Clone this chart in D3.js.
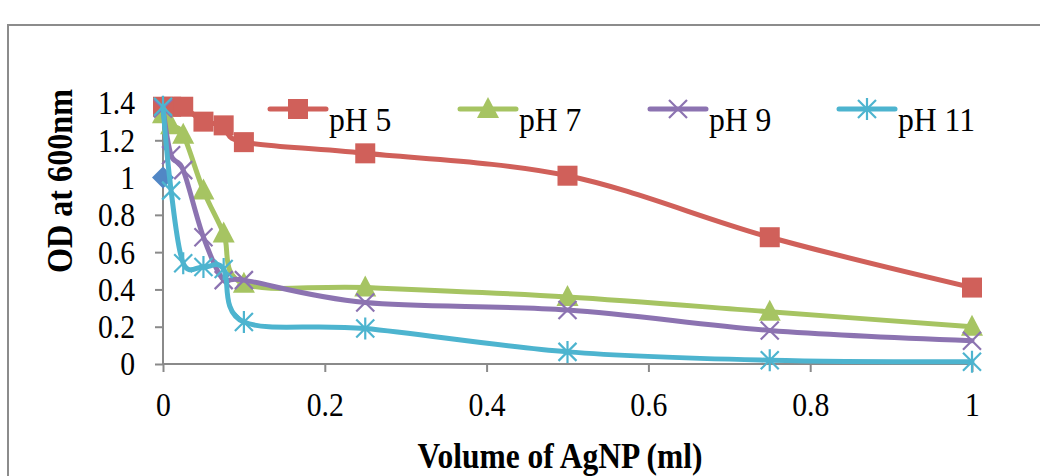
<!DOCTYPE html>
<html>
<head>
<meta charset="utf-8">
<script src="https://cdn.jsdelivr.net/npm/d3@7"></script>
<style>
  html, body { margin: 0; padding: 0; background: #fff; }
  svg { display: block; }
  text { font-family: "Liberation Serif", "Times New Roman", serif; fill: #000; }
</style>
</head>
<body>
<svg id="chart" width="1040" height="476"></svg>
<script>
// ---- data ----
const volumes = [0, 0.01, 0.025, 0.05, 0.075, 0.1, 0.25, 0.5, 0.75, 1];
const pH5  = [1.38, 1.38, 1.38, 1.30, 1.28, 1.19, 1.13, 1.01, 0.68, 0.41];
const pH7  = [1.34, 1.28, 1.23, 0.93, 0.70, 0.43, 0.41, 0.36, 0.28, 0.20];
const pH9  = [1.37, 1.12, 1.04, 0.68, 0.45, 0.45, 0.33, 0.29, 0.18, 0.125];
const pH11 = [1.38, 0.93, 0.54, 0.52, 0.51, 0.225, 0.19, 0.065, 0.02, 0.012];
const series1Volumes = [0];
const series1 = [1.0];
const seriesNames = ["pH 5", "pH 7", "pH 9", "pH 11"];
const xTicks = [0, 0.2, 0.4, 0.6, 0.8, 1];
const yTicks = [0, 0.2, 0.4, 0.6, 0.8, 1, 1.2, 1.4];
const xTitle = "Volume of AgNP (ml)";
const yTitle = "OD at 600nm";

// ---- layout ----
const svg = d3.select("#chart");
const x = d3.scaleLinear().domain([0, 1]).range([163, 972]);
const y = d3.scaleLinear().domain([0, 1.4]).range([364, 103]);
const axisColor = "#8a8a8a";
const sx = 0.9; // horizontal squeeze of the original's text

// outer chart border
svg.append("rect").attr("x", 8).attr("y", 25).attr("width", 1100).attr("height", 600)
  .attr("fill", "none").attr("stroke", "#8c8c8c").attr("stroke-width", 2);

// axes
const xAxis = svg.append("g").attr("transform", `translate(0,${y(0)})`)
  .call(d3.axisBottom(x).tickValues(xTicks).tickSize(8).tickFormat(d3.format("~g")));
const yAxis = svg.append("g").attr("transform", `translate(${x(0)},0)`)
  .call(d3.axisLeft(y).tickValues(yTicks).tickSize(8).tickFormat(d3.format("~g")));
[xAxis, yAxis].forEach(g => {
  g.selectAll("path").attr("stroke", axisColor).attr("stroke-width", 2);
  g.selectAll("line").attr("stroke", axisColor).attr("stroke-width", 2);
  g.selectAll("text").style("font-family", '"Liberation Serif", serif').style("font-size", "33px").attr("fill", "#000");
});
xAxis.selectAll(".domain").attr("d", `M${x(0)},0H${x(1)}`);
yAxis.selectAll(".domain").attr("d", `M0,${y(0)}V${y(1.4)}`);
xAxis.selectAll("text").attr("y", 52).attr("dy", 0).attr("transform", `scale(${sx},1)`);
yAxis.selectAll("text").attr("x", -28 / sx).attr("dy", "0.33em").attr("transform", `scale(${sx},1)`);

// axis titles
svg.append("text").attr("transform", `translate(560,468) scale(0.9,1)`).attr("text-anchor", "middle")
  .style("font-size", "35px").style("font-weight", "bold").text(xTitle);
svg.append("text").attr("transform", "translate(72,181) rotate(-90) scale(0.92,1)").attr("text-anchor", "middle")
  .style("font-size", "35px").style("font-weight", "bold").text(yTitle);

// ---- series ----
const colors = ["#D0605A", "#A6C462", "#8C73B1", "#4DB4CF"];
const blue = "#5187C5";
const values = [pH5, pH7, pH9, pH11];
const curve = d3.curveCatmullRom.alpha(0);
const line = d3.line().x(d => x(d[0])).y(d => y(d[1])).curve(curve);

function marker(g, kind, cx, cy, color) {
  if (kind === "square") {
    g.append("rect").attr("x", cx - 10).attr("y", cy - 10).attr("width", 20).attr("height", 20).attr("fill", color);
  } else if (kind === "triangle") {
    g.append("path").attr("d", `M${cx},${cy - 12}L${cx + 11},${cy + 9}L${cx - 11},${cy + 9}Z`).attr("fill", color);
  } else if (kind === "x") {
    g.append("path").attr("d", `M${cx - 9},${cy - 9}L${cx + 9},${cy + 9}M${cx - 9},${cy + 9}L${cx + 9},${cy - 9}`)
      .attr("stroke", color).attr("stroke-width", 2.2);
  } else if (kind === "star") {
    g.append("path").attr("d", `M${cx - 9},${cy - 9}L${cx + 9},${cy + 9}M${cx - 9},${cy + 9}L${cx + 9},${cy - 9}M${cx},${cy - 11}L${cx},${cy + 11}`)
      .attr("stroke", color).attr("stroke-width", 2.2);
  } else if (kind === "diamond") {
    g.append("path").attr("d", `M${cx},${cy - 11}L${cx + 11},${cy}L${cx},${cy + 11}L${cx - 11},${cy}Z`).attr("fill", color);
  }
}
const kinds = ["square", "triangle", "x", "star"];

// Series 1 (blue diamond, not in legend)
const gBlue = svg.append("g");
series1Volumes.forEach((v, i) => marker(gBlue, "diamond", x(v), y(series1[i]), blue));

values.forEach((vals, si) => {
  const pts = volumes.map((v, i) => [v, vals[i]]);
  const g = svg.append("g");
  g.append("path").attr("d", line(pts)).attr("fill", "none")
    .attr("stroke", colors[si]).attr("stroke-width", 5).attr("stroke-linejoin", "round").attr("stroke-linecap", "round");
  pts.forEach(p => marker(g, kinds[si], x(p[0]), y(p[1]), colors[si]));
});

// ---- legend ----
const legendX = [270, 460, 650, 839];
const legendY = 109;
seriesNames.forEach((name, i) => {
  const g = svg.append("g");
  g.append("line").attr("x1", legendX[i]).attr("x2", legendX[i] + 56).attr("y1", legendY).attr("y2", legendY)
    .attr("stroke", colors[i]).attr("stroke-width", 5).attr("stroke-linecap", "round");
  marker(g, kinds[i], legendX[i] + 28, legendY, colors[i]);
  g.append("text").attr("transform", `translate(${legendX[i] + 59},${legendY + 22}) scale(0.96,1)`)
    .style("font-size", "33px").text(name);
});
</script>
</body>
</html>
